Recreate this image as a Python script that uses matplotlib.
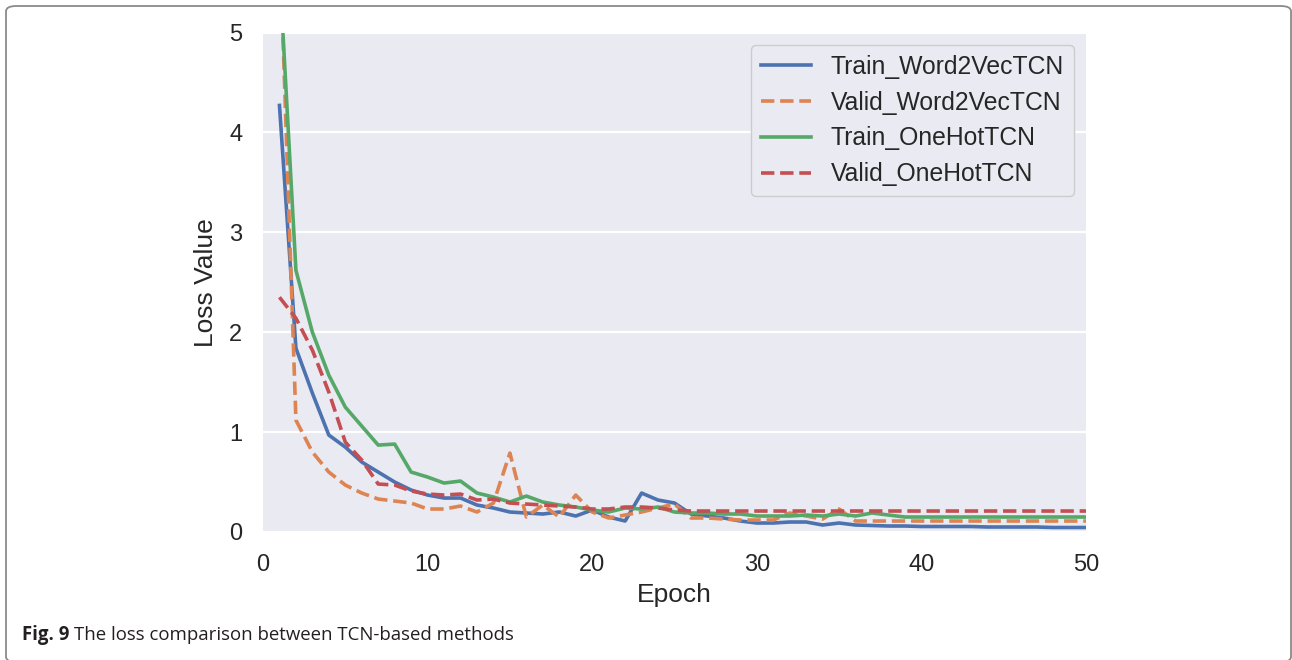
import matplotlib
matplotlib.use("Agg")
import matplotlib.pyplot as plt
from matplotlib.patches import FancyBboxPatch
import numpy as np

epochs = list(range(1, 51))

train_word2vec = [4.27, 1.84, 1.39, 0.97, 0.85, 0.70, 0.60, 0.50, 0.42, 0.37,
                  0.34, 0.34, 0.27, 0.24, 0.20, 0.19, 0.18, 0.20, 0.16, 0.22,
                  0.15, 0.11, 0.39, 0.32, 0.29, 0.18, 0.16, 0.14, 0.11, 0.09,
                  0.09, 0.10, 0.10, 0.07, 0.09, 0.07, 0.065, 0.06, 0.06, 0.055,
                  0.055, 0.055, 0.055, 0.05, 0.05, 0.05, 0.05, 0.045, 0.045, 0.045]
valid_word2vec = [6.0, 1.12, 0.80, 0.60, 0.47, 0.39, 0.33, 0.31, 0.29, 0.23,
                  0.23, 0.26, 0.20, 0.29, 0.79, 0.15, 0.27, 0.15, 0.37, 0.20,
                  0.14, 0.17, 0.20, 0.24, 0.28, 0.14, 0.14, 0.13, 0.12, 0.12,
                  0.12, 0.19, 0.16, 0.13, 0.23, 0.11, 0.11, 0.11, 0.11, 0.11,
                  0.11, 0.11, 0.11, 0.11, 0.11, 0.11, 0.11, 0.11, 0.11, 0.11]
train_onehot = [5.63, 2.62, 2.00, 1.57, 1.25, 1.06, 0.87, 0.88, 0.60, 0.55,
                0.49, 0.51, 0.39, 0.35, 0.30, 0.36, 0.30, 0.27, 0.25, 0.22,
                0.20, 0.24, 0.23, 0.25, 0.20, 0.19, 0.19, 0.18, 0.18, 0.16,
                0.16, 0.16, 0.17, 0.16, 0.18, 0.16, 0.19, 0.17, 0.15, 0.15,
                0.15, 0.15, 0.15, 0.15, 0.15, 0.15, 0.15, 0.15, 0.15, 0.15]
valid_onehot = [2.35, 2.14, 1.82, 1.40, 0.90, 0.72, 0.48, 0.47, 0.41, 0.38,
                0.37, 0.38, 0.32, 0.33, 0.29, 0.28, 0.27, 0.26, 0.25, 0.23,
                0.23, 0.25, 0.25, 0.24, 0.22, 0.21, 0.21, 0.21, 0.21, 0.21,
                0.21, 0.21, 0.21, 0.21, 0.21, 0.21, 0.21, 0.21, 0.21, 0.21,
                0.21, 0.21, 0.21, 0.21, 0.21, 0.21, 0.21, 0.21, 0.21, 0.21]

series_labels = ["Train_Word2VecTCN", "Valid_Word2VecTCN", "Train_OneHotTCN", "Valid_OneHotTCN"]
x_ticks = [0, 10, 20, 30, 40, 50]
y_ticks = [0, 1, 2, 3, 4, 5]

colors = ["#4C72B0", "#DD8452", "#55A868", "#C44E52"]
styles = ["-", "--", "-", "--"]

font = "Liberation Sans"
fig = plt.figure(figsize=(12.92, 6.60), dpi=100)
W, H = 1292, 660
ax = fig.add_axes([263 / W, 1 - 532 / H, (1086 - 263) / W, (532 - 32.5) / H])
ax.set_facecolor("#EAEAF2")
for s in ax.spines.values():
    s.set_visible(False)

for ys, lab, c, ls in zip([train_word2vec, valid_word2vec, train_onehot, valid_onehot],
                          series_labels, colors, styles):
    ax.plot(epochs, ys, ls, color=c, lw=2.6, label=lab)

ax.set_xlim(0, 50)
ax.set_ylim(0, 5)
ax.set_xticks(x_ticks)
ax.set_yticks(y_ticks)
ax.set_xticklabels([str(t) for t in x_ticks], fontsize=17, family=font, color="#262626")
ax.set_yticklabels([str(t) for t in y_ticks], fontsize=17, family=font, color="#262626")
ax.tick_params(axis="x", length=0, pad=16)
ax.tick_params(axis="y", length=0, pad=15)
ax.grid(axis="y", color="white", lw=1.6)
ax.grid(axis="x", visible=False)
ax.set_axisbelow(True)
ax.set_xlabel("Epoch", fontsize=19, family=font, color="#262626", labelpad=5)
ax.set_ylabel("Loss Value", fontsize=19, family=font, color="#262626", labelpad=8)

leg = ax.legend(loc="upper right", prop={"family": font, "size": 17.8}, handlelength=2.0,
                handletextpad=0.8, frameon=True, facecolor="#EAEAF2", edgecolor="#CCCCCC",
                framealpha=1, borderaxespad=0.5, labelspacing=0.48, fancybox=True)
for t in leg.get_texts():
    t.set_color("#262626")

# border frame
frame = FancyBboxPatch((6 / W, 1 - 662 / H), (1291 - 6) / W, (662 - 6) / H,
                       boxstyle="round,pad=0,rounding_size=0.008",
                       transform=fig.transFigure, fill=False, edgecolor="#8A8A8A",
                       lw=1.3, clip_on=False)
fig.patches.append(frame)

# caption
cap_font = "Open Sans"
t1 = fig.text(22 / W, 1 - 635 / H, "Fig. 9", fontsize=13.4, family=cap_font, weight="bold",
              va="center", ha="left", color="#231F20")
fig.canvas.draw()
bb = t1.get_window_extent()
fig.text((bb.x1 + 5) / W, 1 - 635 / H, "The loss comparison between TCN-based methods",
         fontsize=13.4, family=cap_font, va="center", ha="left", color="#231F20")

fig.savefig("out.png", dpi=100)
